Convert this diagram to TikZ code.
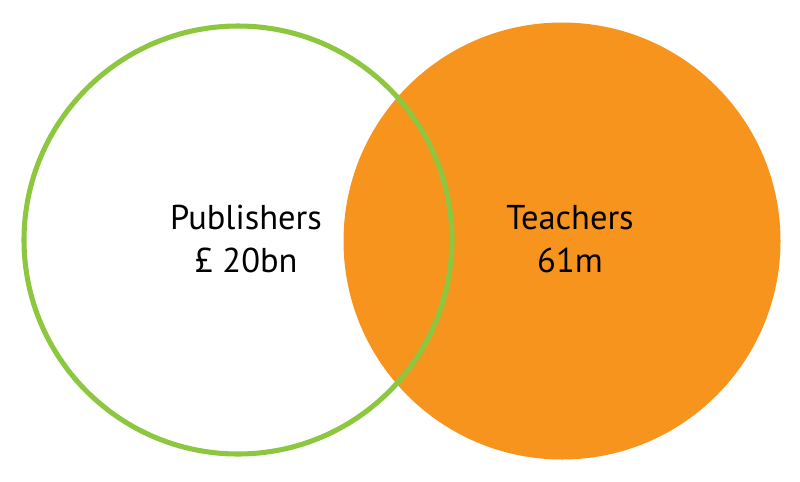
\documentclass[tikz,border=0pt]{standalone}
\usepackage{fontspec}
\setmainfont{PT Sans}
\usetikzlibrary{positioning}
\definecolor{leafgreen}{HTML}{8DC63F}
\definecolor{tangerine}{HTML}{F7941D}

\begin{document}
\begin{tikzpicture}[
    x=0.025cm, y=-0.025cm,
    every node/.style={font=\fontsize{24.5}{31}\selectfont, align=center},
    setcircle/.style={circle, inner sep=0pt},
]
\useasboundingbox (0,0) rectangle (800,481);

% ---- Sets ----
\node[setcircle, fill=tangerine, minimum size=437*0.025cm] (teachers) at (562,241) {};
\node[setcircle, draw=leafgreen, line width=3.6pt, minimum size=428*0.025cm] (publishers) at (238,240) {};

% ---- Labels ----
\node (publab) at (246,239) {Publishers\\£ 20bn};
\node (teachlab) at (570,239) {Teachers\\61m};

\end{tikzpicture}
\end{document}
